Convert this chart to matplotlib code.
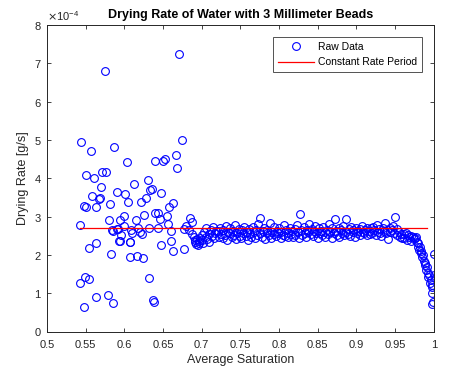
import matplotlib
matplotlib.use("Agg")
import matplotlib.pyplot as plt
from matplotlib.ticker import ScalarFormatter
import numpy as np

plt.rcParams["font.family"] = ["Liberation Sans", "DejaVu Sans"]

# drying rate values below are in units of 1e-4 g/s
scatter_sat = [
    0.543, 0.548, 0.543, 0.549, 0.554, 0.554, 0.564, 0.564, 0.579, 0.585,
    0.583, 0.551, 0.561, 0.571, 0.577, 0.570, 0.558, 0.567, 0.568, 0.548,
    0.550, 0.563, 0.582, 0.590, 0.580, 0.584, 0.591, 0.595, 0.599, 0.596,
    0.594, 0.601, 0.605, 0.604, 0.612, 0.608, 0.607, 0.616, 0.624, 0.610,
    0.609, 0.615, 0.618, 0.620, 0.623, 0.621, 0.625, 0.628, 0.630, 0.633,
    0.636, 0.632, 0.632, 0.637, 0.638, 0.640, 0.643, 0.646, 0.648, 0.644,
    0.647, 0.640, 0.650, 0.653, 0.667, 0.668, 0.655, 0.656, 0.658, 0.663,
    0.660, 0.661, 0.663, 0.677, 0.677, 0.680, 0.683, 0.685, 0.687, 0.575,
    0.671, 0.544, 0.557, 0.587, 0.675, 0.600, 0.592, 0.593, 0.608, 0.585,
]
scatter_rate = [
    2.78, 0.65, 1.27, 1.43, 1.36, 2.17, 2.32, 0.91, 0.95, 0.75,
    2.03, 4.09, 4.00, 4.16, 4.16, 3.78, 3.55, 3.47, 3.49, 3.28,
    3.26, 3.26, 3.32, 3.65, 2.92, 2.65, 2.68, 2.92, 3.02, 2.52,
    2.37, 3.58, 3.39, 4.43, 3.85, 2.35, 1.95, 1.97, 1.93, 2.56,
    2.65, 2.90, 2.69, 2.59, 2.55, 3.38, 3.04, 3.48, 3.96, 3.69,
    3.71, 2.71, 1.40, 0.82, 0.78, 3.10, 3.09, 2.93, 3.61, 2.70,
    2.26, 4.45, 4.45, 4.50, 4.60, 4.27, 3.02, 2.80, 3.26, 3.36,
    2.36, 2.63, 2.10, 2.15, 2.68, 2.75, 2.65, 2.96, 2.87, 6.81,
    7.25, 4.95, 4.71, 4.83, 4.99, 2.75, 2.68, 2.36, 2.33, 2.62,
]

dip_sat = [
    0.688, 0.690, 0.691, 0.692, 0.693, 0.694, 0.695, 0.696, 0.697, 0.698,
    0.700, 0.701, 0.702, 0.703, 0.705, 0.706, 0.707, 0.709, 0.710, 0.712,
    0.713, 0.714, 0.716, 0.717, 0.719,
]
dip_rate = [
    2.55, 2.48, 2.40, 2.33, 2.28, 2.42, 2.25, 2.36, 2.30, 2.45,
    2.38, 2.52, 2.32, 2.60, 2.47, 2.70, 2.41, 2.55, 2.35, 2.66,
    2.50, 2.72, 2.44, 2.58, 2.62,
]

band_sat = [
    0.721, 0.722, 0.724, 0.725, 0.727, 0.728, 0.730, 0.731, 0.733, 0.734,
    0.736, 0.737, 0.739, 0.740, 0.742, 0.743, 0.745, 0.746, 0.748, 0.749,
    0.751, 0.752, 0.754, 0.755, 0.757, 0.758, 0.760, 0.761, 0.763, 0.764,
    0.766, 0.767, 0.769, 0.770, 0.772, 0.773, 0.775, 0.776, 0.778, 0.779,
    0.781, 0.782, 0.784, 0.785, 0.787, 0.788, 0.790, 0.791, 0.793, 0.794,
    0.796, 0.797, 0.799, 0.800, 0.802, 0.803, 0.805, 0.806, 0.808, 0.809,
    0.811, 0.812, 0.814, 0.815, 0.817, 0.818, 0.820, 0.821, 0.823, 0.824,
    0.826, 0.827, 0.829, 0.830, 0.832, 0.833, 0.835, 0.836, 0.838, 0.839,
    0.841, 0.842, 0.844, 0.845, 0.847, 0.848, 0.850, 0.851, 0.853, 0.854,
    0.856, 0.857, 0.859, 0.860, 0.862, 0.863, 0.865, 0.866, 0.868, 0.869,
    0.871, 0.872, 0.874, 0.875, 0.877, 0.878, 0.880, 0.881, 0.883, 0.884,
    0.886, 0.887, 0.889, 0.890, 0.892, 0.893, 0.895, 0.896, 0.898, 0.899,
    0.901, 0.902, 0.904, 0.905, 0.907, 0.908, 0.910, 0.911, 0.913, 0.914,
    0.916, 0.917, 0.919, 0.920, 0.922, 0.923, 0.925, 0.926, 0.928, 0.929,
    0.931, 0.932, 0.934, 0.935, 0.937, 0.938, 0.940, 0.941, 0.943, 0.944,
    0.946, 0.947, 0.949, 0.950, 0.952, 0.953, 0.955, 0.956, 0.958, 0.959,
]
band_rate = [
    2.62, 2.48, 2.71, 2.55, 2.44, 2.66, 2.52, 2.75, 2.40, 2.60,
    2.57, 2.69, 2.46, 2.63, 2.53, 2.78, 2.42, 2.58, 2.67, 2.50,
    2.45, 2.64, 2.56, 2.72, 2.49, 2.61, 2.38, 2.68, 2.54, 2.47,
    2.73, 2.59, 2.43, 2.65, 2.51, 2.80, 2.56, 2.97, 2.48, 2.62,
    2.70, 2.41, 2.58, 2.66, 2.52, 2.84, 2.45, 2.61, 2.55, 2.74,
    2.49, 2.63, 2.57, 2.69, 2.44, 2.60, 2.53, 2.77, 2.50, 2.65,
    2.58, 2.46, 2.71, 2.55, 2.62, 2.48, 2.67, 2.53, 2.79, 2.59,
    2.43, 3.06, 2.64, 2.51, 2.73, 2.57, 2.47, 2.66, 2.60, 2.82,
    2.54, 2.68, 2.49, 2.62, 2.76, 2.56, 2.45, 2.70, 2.58, 2.63,
    2.51, 2.74, 2.60, 2.47, 2.66, 2.55, 2.81, 2.59, 2.44, 2.69,
    2.57, 2.95, 2.62, 2.53, 2.70, 2.48, 2.65, 2.58, 2.76, 2.52,
    2.61, 2.93, 2.55, 2.67, 2.50, 2.72, 2.59, 2.64, 2.46, 2.70,
    2.56, 2.63, 2.68, 2.53, 2.75, 2.60, 2.57, 2.66, 2.51, 2.71,
    2.62, 2.55, 2.69, 2.58, 2.73, 2.64, 2.52, 2.77, 2.60, 2.67,
    2.58, 2.49, 2.71, 2.62, 2.84, 2.56, 2.66, 2.42, 2.69, 2.60,
    2.64, 2.75, 2.57, 3.00, 2.68, 2.52, 2.61, 2.48, 2.55, 2.44,
]

falling_sat = [
    0.961, 0.962, 0.964, 0.965, 0.967, 0.968, 0.970, 0.971, 0.973, 0.974,
    0.976, 0.977, 0.978, 0.979, 0.980, 0.981, 0.982, 0.983, 0.984, 0.985,
    0.986, 0.987, 0.988, 0.989, 0.990, 0.991, 0.992, 0.993, 0.994, 0.995,
    0.996, 0.997, 0.998, 0.998, 0.999, 1.000, 1.000, 0.998,
]
falling_rate = [
    2.55, 2.45, 2.58, 2.40, 2.52, 2.47, 2.50, 2.36, 2.48, 2.42,
    2.44, 2.46, 2.35, 2.21, 2.30, 2.13, 2.20, 2.05, 2.10, 1.95,
    2.00, 1.84, 1.74, 1.80, 1.61, 1.68, 1.52, 1.43, 1.48, 1.26,
    1.35, 1.17, 1.01, 1.22, 0.78, 2.02, 1.47, 0.72,
]

const_sat = [0.5426, 0.9906]
const_rate = [2.69, 2.69]

sat = np.array(scatter_sat + dip_sat + band_sat + falling_sat)
rate = np.array(scatter_rate + dip_rate + band_rate + falling_rate) * 1e-4

AX_COL = "#262626"

fig = plt.figure(figsize=(4.69, 3.75), dpi=100)
ax = fig.add_axes([0.100, 0.116, 0.825, 0.817])

ax.plot(sat, rate, "o", ls="none", mfc="none", mec="#0000ff", ms=5.6, mew=0.8,
        label="Raw Data")
ax.plot(const_sat, np.array(const_rate) * 1e-4, color="#ff0000", lw=0.9,
        label="Constant Rate Period")

ax.set_xlim(0.5, 1.0)
ax.set_ylim(0, 8e-4)
ax.set_xticks(np.arange(0.5, 1.0001, 0.05))
ax.set_xticklabels(["0.5", "0.55", "0.6", "0.65", "0.7", "0.75", "0.8",
                    "0.85", "0.9", "0.95", "1"])
ax.set_yticks(np.arange(0, 8.5e-4, 1e-4))
fmt = ScalarFormatter(useMathText=True)
fmt.set_powerlimits((-3, 3))
ax.yaxis.set_major_formatter(fmt)
ax.yaxis.get_offset_text().set_fontsize(8)
ax.yaxis.get_offset_text().set_color(AX_COL)

ax.tick_params(direction="in", length=3, width=0.6, labelsize=8,
               colors=AX_COL, top=True, right=True)
ax.tick_params(axis="x", pad=6)
ax.tick_params(axis="y", pad=4)
for s in ax.spines.values():
    s.set_color(AX_COL)
    s.set_linewidth(0.7)

ax.set_xlabel("Average Saturation", fontsize=9, color=AX_COL, labelpad=3)
ax.set_ylabel("Drying Rate [g/s]", fontsize=9, color=AX_COL, labelpad=3)
ax.set_title("Drying Rate of Water with 3 Millimeter Beads", fontsize=9,
             fontweight="bold", pad=5)

leg = ax.legend(loc="upper right", bbox_to_anchor=(0.969, 0.961), fontsize=7.5,
                frameon=True, fancybox=False, borderpad=0.45,
                handlelength=3.5, handletextpad=0.35, labelspacing=0.55,
                borderaxespad=0)
leg.get_frame().set_edgecolor(AX_COL)
leg.get_frame().set_linewidth(0.7)

fig.savefig("out.png", dpi=100, facecolor="white")
